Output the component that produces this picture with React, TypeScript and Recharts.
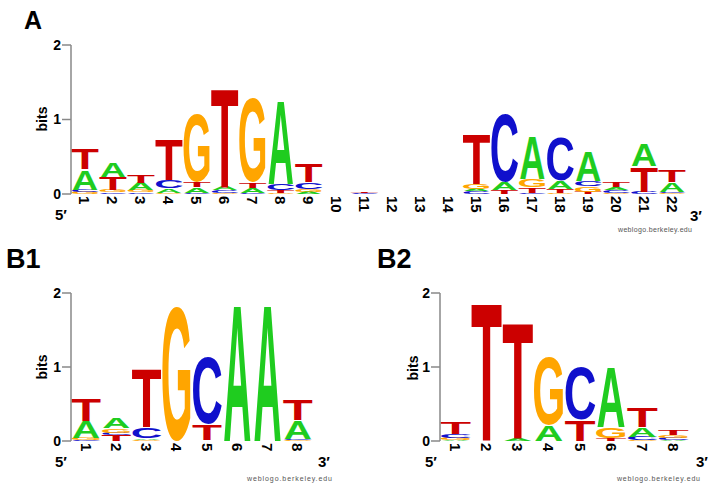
import { BarChart, Bar, XAxis, YAxis } from 'recharts'

// letters per position, listed bottom to top, with their heights in bits
const A_POS = ['1', '2', '3', '4', '5', '6', '7', '8', '9', '10', '11', '12', '13', '14', '15', '16', '17', '18', '19', '20', '21', '22']
const A_STACK = ['GCAT', 'CGTA', 'CGAT', 'GACT', 'CATG', 'GCAT', 'CATG', 'GTCA', 'AGCT', 'ACGT', 'AGCT', 'ACGT', 'ACGT', 'ACGT', 'CAGT', 'GTAC', 'CTGA', 'GTAC', 'TGCA', 'GCAT', 'GCTA', 'GCAT']
const A_BITS = [
  [0.03, 0.03, 0.27, 0.28],
  [0.02, 0.03, 0.18, 0.19],
  [0.02, 0.03, 0.1, 0.11],
  [0.02, 0.06, 0.11, 0.55],
  [0.02, 0.07, 0.07, 0.96],
  [0.01, 0.04, 0.05, 1.35],
  [0.01, 0.07, 0.07, 1.18],
  [0.01, 0.04, 0.09, 1.15],
  [0.03, 0.04, 0.09, 0.25],
  [0, 0, 0, 0],
  [0, 0, 0.01, 0.02],
  [0, 0, 0, 0],
  [0, 0, 0, 0],
  [0, 0, 0, 0],
  [0.04, 0.03, 0.07, 0.68],
  [0, 0.05, 0.11, 0.96],
  [0.02, 0.07, 0.11, 0.59],
  [0.01, 0.06, 0.11, 0.61],
  [0.03, 0.08, 0.07, 0.41],
  [0.01, 0.04, 0.04, 0.07],
  [0, 0.03, 0.34, 0.31],
  [0.01, 0.02, 0.13, 0.16],
]

const B1_POS = ['1', '2', '3', '4', '5', '6', '7', '8']
const B1_STACK = ['CGAT', 'TCGA', 'GACT', 'ACTG', 'AGTC', 'CGTA', 'CGTA', 'GCAT']
const B1_BITS = [
  [0.01, 0.03, 0.23, 0.3],
  [0.08, 0.03, 0.06, 0.14],
  [0.02, 0.02, 0.15, 0.8],
  [0, 0, 0, 1.89],
  [0.005, 0.005, 0.22, 0.95],
  [0, 0, 0, 1.89],
  [0, 0, 0, 1.89],
  [0.01, 0.02, 0.25, 0.28],
]

const B2_POS = ['1', '2', '3', '4', '5', '6', '7', '8']
const B2_STACK = ['AGCT', 'ACGT', 'CGAT', 'CTAG', 'GATC', 'CTGA', 'GCAT', 'ACGT']
const B2_BITS = [
  [0.01, 0.035, 0.045, 0.16],
  [0, 0, 0, 1.9],
  [0, 0, 0.04, 1.6],
  [0, 0, 0.22, 0.96],
  [0, 0, 0.29, 0.74],
  [0, 0.04, 0.15, 0.83],
  [0.01, 0.05, 0.13, 0.27],
  [0.01, 0.035, 0.04, 0.07],
]

const Y_TICKS = [0, 1, 2]

const COLORS: Record<string, string> = {
  A: '#1fcc1f',
  C: '#1010cc',
  G: '#ffa500',
  T: '#cc0000',
}

// rough ink metrics of Arial/Liberation Sans Bold, in em
const METRICS: Record<string, { w: number; top: number; bot: number }> = {
  A: { w: 0.72, top: 0.716, bot: 0 },
  C: { w: 0.64, top: 0.728, bot: -0.012 },
  G: { w: 0.68, top: 0.728, bot: -0.012 },
  T: { w: 0.57, top: 0.716, bot: 0 },
}

const FONT = '"Liberation Sans", Arial, sans-serif'

function buildRows(pos: string[], stacks: string[], bits: number[][]) {
  return pos.map((p, i) => {
    const row: Record<string, string | number> = { pos: p }
    for (let k = 0; k < 4; k++) {
      row[`h${k}`] = bits[i][k]
      row[`l${k}`] = stacks[i][k]
    }
    return row
  })
}

function Letter(props: any) {
  const { x, y, width, height, letter } = props
  if (!letter || !height || height < 0.3) return null
  const m = METRICS[letter]
  const sx = width / (m.w * 100)
  const sy = height / ((m.top - m.bot) * 100)
  const ty = y + height + m.bot * 100 * sy
  return (
    <text
      transform={`translate(${x + width / 2},${ty}) scale(${sx},${sy})`}
      fontSize={100}
      fontFamily={FONT}
      fontWeight="bold"
      textAnchor="middle"
      fill={COLORS[letter]}
    >
      {letter}
    </text>
  )
}

function PosTick(props: any) {
  const { x, y, payload } = props
  return (
    <text
      transform={`translate(${x},${y}) rotate(90)`}
      textAnchor="start"
      dominantBaseline="central"
      fontSize={15}
      fontWeight="bold"
      fontFamily={FONT}
      fill="#000"
    >
      {payload.value}
    </text>
  )
}

interface PanelProps {
  rows: Record<string, string | number>[]
  left: number
  top: number
  width: number
  height: number
  margin: { top: number; right: number; bottom: number; left: number }
}

function LogoPanel({ rows, left, top, width, height, margin }: PanelProps) {
  return (
    <div style={{ position: 'absolute', left, top }}>
      <BarChart
        width={width}
        height={height}
        data={rows}
        margin={margin}
        barCategoryGap={1}
      >
        <XAxis
          dataKey="pos"
          interval={0}
          tickLine={false}
          axisLine={false}
          tickSize={0}
          tickMargin={2}
          height={30}
          tick={<PosTick />}
        />
        <YAxis
          type="number"
          domain={[0, 2]}
          ticks={Y_TICKS}
          width={30}
          tickSize={9}
          tickMargin={1}
          axisLine={{ stroke: '#888', strokeWidth: 1.5 }}
          tickLine={{ stroke: '#888', strokeWidth: 1.5 }}
          tick={{ fontSize: 14, fontWeight: 'bold', fill: '#000', fontFamily: FONT }}
          allowDataOverflow
        />
        {[0, 1, 2, 3].map((k) => (
          <Bar
            key={k}
            dataKey={`h${k}`}
            stackId="logo"
            isAnimationActive={false}
            shape={(p: any) => <Letter {...p} letter={p.payload[`l${k}`]} />}
          />
        ))}
      </BarChart>
    </div>
  )
}

const rowsA = buildRows(A_POS, A_STACK, A_BITS)
const rowsB1 = buildRows(B1_POS, B1_STACK, B1_BITS)
const rowsB2 = buildRows(B2_POS, B2_STACK, B2_BITS)

export default function App() {
  const label = { fontFamily: FONT, fontWeight: 'bold' as const, fill: '#000' }
  const small = { fontFamily: FONT, fontSize: 7, fill: '#555' }
  return (
    <div
      style={{
        position: 'absolute',
        left: 0,
        top: 0,
        width: 710,
        height: 489,
        background: '#fff',
        fontFamily: FONT,
      }}
    >
      <LogoPanel
        rows={rowsA}
        left={0}
        top={0}
        width={710}
        height={240}
        margin={{ top: 45, right: 24, bottom: 16, left: 41 }}
      />
      <LogoPanel
        rows={rowsB1}
        left={0}
        top={240}
        width={355}
        height={249}
        margin={{ top: 53, right: 42, bottom: 18, left: 41 }}
      />
      <LogoPanel
        rows={rowsB2}
        left={355}
        top={240}
        width={355}
        height={249}
        margin={{ top: 53, right: 21, bottom: 18, left: 55 }}
      />
      <svg
        width={710}
        height={489}
        style={{ position: 'absolute', left: 0, top: 0, pointerEvents: 'none' }}
      >
        <text x={24} y={29} fontSize={25} {...label}>A</text>
        <text x={6} y={268} fontSize={27} {...label}>B1</text>
        <text x={377} y={268} fontSize={27} {...label}>B2</text>

        <text transform="translate(47,119) rotate(-90)" textAnchor="middle" fontSize={14} {...label}>bits</text>
        <text transform="translate(47,367) rotate(-90)" textAnchor="middle" fontSize={14} {...label}>bits</text>
        <text transform="translate(418,368) rotate(-90)" textAnchor="middle" fontSize={14} {...label}>bits</text>

        <text x={55} y={220} fontSize={15} {...label}>5′</text>
        <text x={690} y={221} fontSize={15} {...label}>3′</text>
        <text x={55} y={467} fontSize={15} {...label}>5′</text>
        <text x={318} y={467} fontSize={15} {...label}>3′</text>
        <text x={425} y={467} fontSize={15} {...label}>5′</text>
        <text x={696} y={467} fontSize={15} {...label}>3′</text>

        <text x={618} y={232} textLength={74} {...small}>weblogo.berkeley.edu</text>
        <text x={247} y={481} textLength={85} {...small}>weblogo.berkeley.edu</text>
        <text x={617} y={481} textLength={83} {...small}>weblogo.berkeley.edu</text>
      </svg>
    </div>
  )
}
